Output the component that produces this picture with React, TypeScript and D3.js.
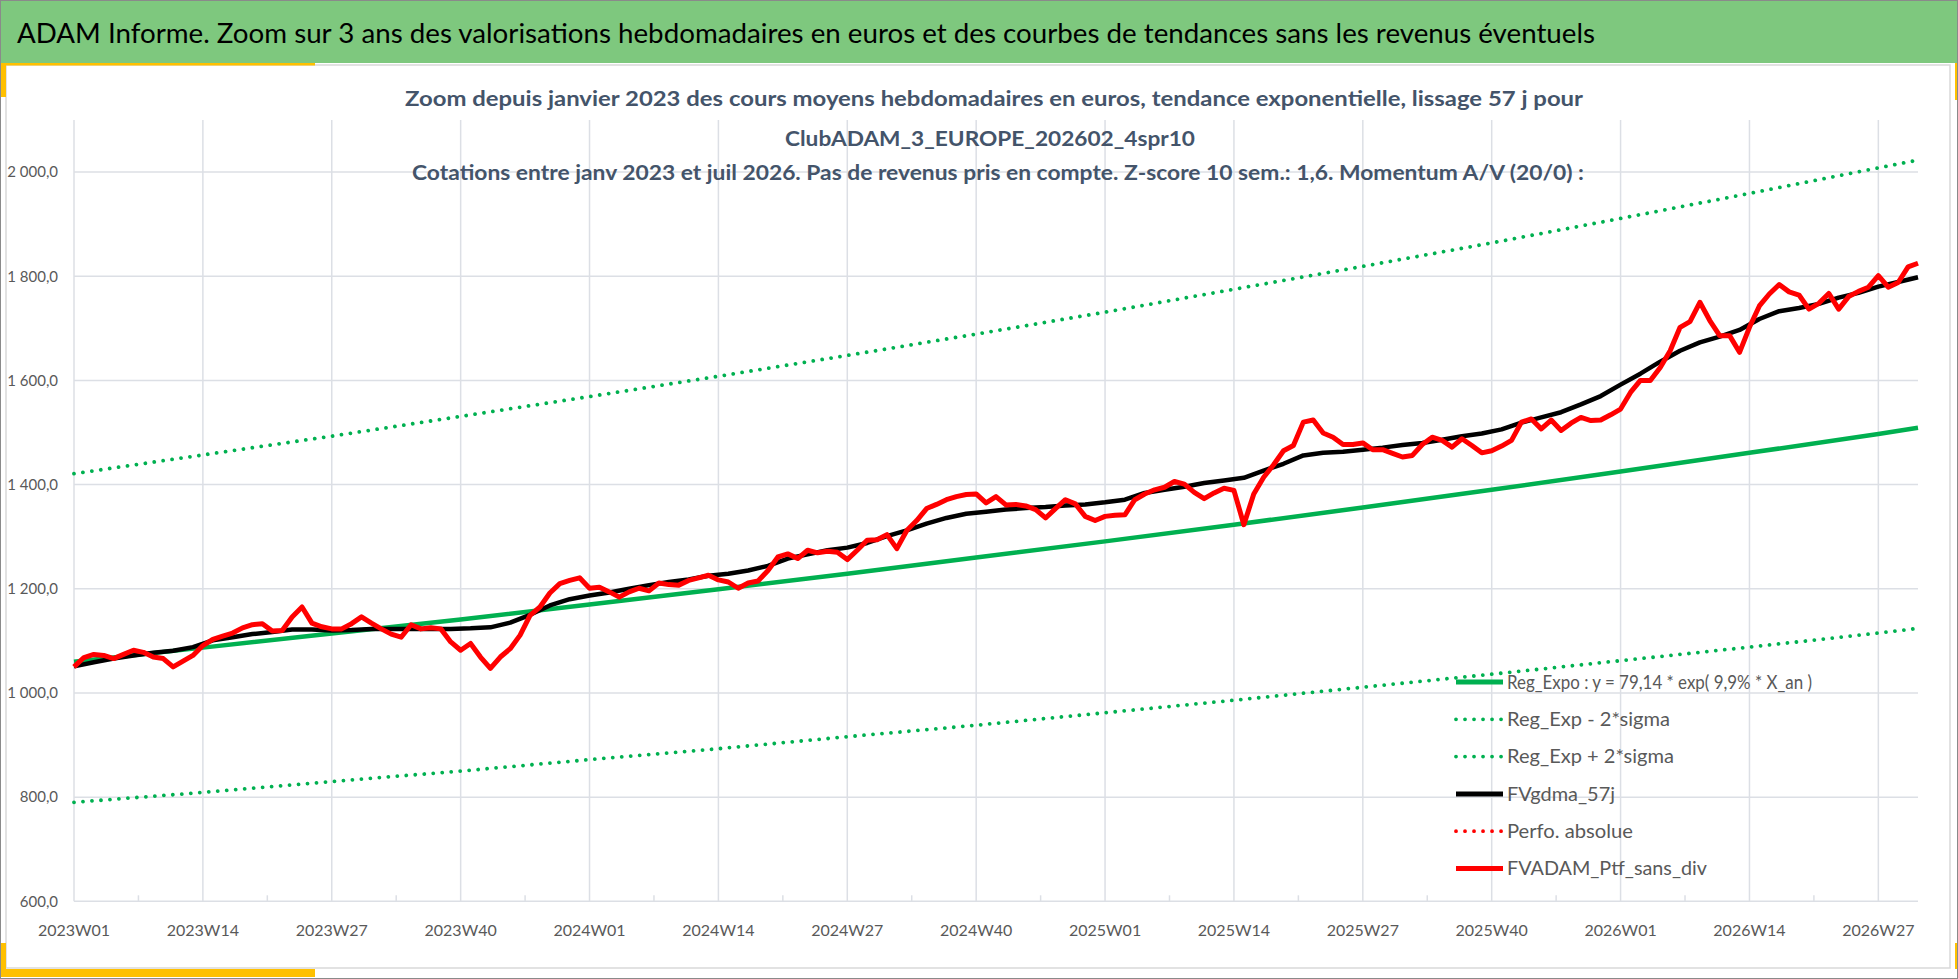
import * as d3 from 'd3'

// categories: weekly points 2023W01 .. 2026W31 (index 0..186)
const lastWeekIndex = 186
const tickLabels = [
  '2023W01', '2023W14', '2023W27', '2023W40',
  '2024W01', '2024W14', '2024W27', '2024W40',
  '2025W01', '2025W14', '2025W27', '2025W40',
  '2026W01', '2026W14', '2026W27',
]
const tickStep = 13
const yTicks = [600, 800, 1000, 1200, 1400, 1600, 1800, 2000]

// FVADAM_Ptf_sans_div, one value per week
const portfolio = [
  1050, 1068, 1074, 1072, 1066, 1074, 1082, 1078, 1069, 1066,
  1050, 1061, 1072, 1091, 1103, 1109, 1115, 1125, 1131, 1133,
  1119, 1120, 1146, 1165, 1134, 1127, 1123, 1123, 1133, 1146,
  1134, 1123, 1113, 1107, 1131, 1123, 1125, 1123, 1098, 1082,
  1095, 1069, 1047, 1069, 1085, 1111, 1149, 1165, 1192, 1210,
  1216, 1221, 1201, 1203, 1194, 1184, 1194, 1201, 1196, 1211,
  1208, 1207, 1216, 1221, 1226, 1217, 1213, 1201, 1211, 1215,
  1235, 1261, 1267, 1258, 1274, 1269, 1272, 1270, 1256, 1274,
  1293, 1294, 1304, 1277, 1312, 1331, 1354, 1362, 1371, 1377,
  1381, 1382, 1365, 1377, 1361, 1362, 1359, 1352, 1336, 1354,
  1371, 1363, 1339, 1331, 1339, 1341, 1342, 1371, 1382, 1390,
  1395, 1406, 1401, 1385, 1373, 1384, 1393, 1389, 1323, 1382,
  1414, 1438, 1465, 1475, 1520, 1524, 1499, 1491, 1477, 1477,
  1480, 1467, 1467, 1460, 1453, 1456, 1477, 1491, 1485, 1472,
  1488, 1475, 1461, 1465, 1474, 1485, 1520, 1526, 1507, 1524,
  1504, 1518, 1529, 1523, 1524, 1534, 1545, 1577, 1600, 1600,
  1625, 1657, 1702, 1713, 1750, 1715, 1686, 1686, 1654, 1702,
  1743, 1766, 1784, 1770, 1764, 1737, 1748, 1767, 1737, 1761,
  1771, 1779, 1801, 1779, 1788, 1818, 1825,
]

// FVgdma_57j, read every 2 weeks
const movingAvgStep = 2
const movingAvg = [
  1051, 1059, 1066, 1072, 1077, 1081, 1088, 1101, 1107, 1113,
  1117, 1122, 1122, 1120, 1121, 1123, 1123, 1123, 1123, 1123,
  1124, 1126, 1135, 1150, 1168, 1180, 1187, 1193, 1200, 1207,
  1213, 1218, 1225, 1229, 1235, 1244, 1258, 1266, 1274, 1279,
  1288, 1301, 1312, 1325, 1336, 1344, 1348, 1352, 1355, 1357,
  1360, 1362, 1366, 1371, 1384, 1390, 1396, 1403, 1408, 1413,
  1427, 1440, 1456, 1461, 1463, 1467, 1471, 1476, 1480, 1486,
  1493, 1498, 1506, 1519, 1529, 1539, 1554, 1570, 1592, 1613,
  1636, 1657, 1673, 1684, 1697, 1718, 1733, 1739, 1747, 1759,
  1768, 1780, 1789, 1798,
]

// trend lines read at the tick weeks and at the last week
const trendWeeks = [0, 13, 26, 39, 52, 65, 78, 91, 104, 117, 130, 143, 156, 169, 182, 186]
const regExpo = [1060, 1087, 1114, 1141, 1170, 1199, 1229, 1260, 1291, 1323, 1356, 1390, 1425, 1461, 1497, 1509]
const regLow = [790, 809, 830, 850, 872, 893, 916, 938, 962, 986, 1011, 1036, 1062, 1088, 1115, 1124]
const regHigh = [1421, 1457, 1493, 1531, 1569, 1608, 1648, 1689, 1731, 1775, 1819, 1864, 1911, 1959, 2008, 2023]

const legendItems = [
  { label: 'Reg_Expo : y = 79,14 * exp( 9,9% * X_an )', color: '#00B050', dotted: false, len: 305 },
  { label: 'Reg_Exp - 2*sigma', color: '#00B050', dotted: true, len: 163 },
  { label: 'Reg_Exp + 2*sigma', color: '#00B050', dotted: true, len: 167 },
  { label: 'FVgdma_57j', color: '#000000', dotted: false, len: 108 },
  { label: 'Perfo. absolue', color: '#FF0000', dotted: true, len: 126 },
  { label: 'FVADAM_Ptf_sans_div', color: '#FF0000', dotted: false, len: 200 },
]

const W = 1958
const H = 979
const font = 'Lato, Calibri, "Open Sans", sans-serif'
const gridColor = '#dcdfe5'
const axisText = '#595959'
const titleText = '#44546A'
const yellow = '#FFC000'

const fr = d3.formatLocale({ decimal: ',', thousands: ' ', grouping: [3], currency: ['', ' €'] })
const fmt = fr.format(',.1f')

export default function App() {
  const x = d3.scaleLinear().domain([0, lastWeekIndex]).range([74, 1918])
  const y = d3.scaleLinear().domain([600, 2100]).range([901.3, 120])

  const line = d3.line<[number, number]>().x(d => x(d[0])).y(d => y(d[1]))
  const redPts = portfolio.map((v, i) => [i, v] as [number, number])
  const blackPts = movingAvg.map((v, i) => [i * movingAvgStep, v] as [number, number])
  const trend = (vals: number[]) => vals.map((v, i) => [trendWeeks[i], v] as [number, number])

  const minorTicks = d3.range(tickStep / 2, lastWeekIndex, tickStep)
  const [x0, x1] = x.range()
  const [yb, yt] = y.range()

  const dotted = { strokeDasharray: '0.01 9', strokeLinecap: 'round' as const, strokeWidth: 3.8 }

  return (
    <div style={{ position: 'absolute', left: 0, top: 0 }}>
      <svg width={W} height={H} style={{ display: 'block', fontFamily: font }}>
        <rect x={0} y={0} width={W} height={H} fill="#ffffff" />
        {/* chart area frame */}
        <rect x={6} y={65} width={1944} height={903} fill="none" stroke="#d9d9d9" strokeWidth={1.5} />
        {/* title banner */}
        <rect x={0} y={0} width={W} height={63} fill="#7EC87E" />
        <text x={17} y={43} fontSize={27} fill="#000" textLength={1578} lengthAdjust="spacingAndGlyphs">
          ADAM Informe. Zoom sur 3 ans des valorisations hebdomadaires en euros et des courbes de tendances sans les revenus éventuels
        </text>
        {/* yellow corner marks */}
        <rect x={0} y={63} width={315} height={2.5} fill={yellow} />
        <rect x={0} y={63} width={6} height={34} fill={yellow} />
        <rect x={W - 3} y={63} width={3} height={37} fill={yellow} />
        <rect x={0} y={943} width={6} height={33} fill={yellow} />
        <rect x={0} y={969} width={315} height={8} fill={yellow} />
        <rect x={W - 3} y={943} width={3} height={26} fill={yellow} />
        <rect x={0.5} y={0.5} width={W - 1} height={H - 1} fill="none" stroke="#8a8a8a" strokeWidth={1} />

        {/* grid */}
        {yTicks.map(t => (
          <line key={'h' + t} x1={x0} x2={x1} y1={y(t)} y2={y(t)} stroke={gridColor} strokeWidth={1.5} />
        ))}
        {tickLabels.map((_, i) => (
          <line key={'v' + i} x1={x(i * tickStep)} x2={x(i * tickStep)} y1={yt} y2={yb} stroke={gridColor} strokeWidth={1.5} />
        ))}
        {minorTicks.map(t => (
          <line key={'m' + t} x1={x(t)} x2={x(t)} y1={yb - 6} y2={yb} stroke={gridColor} strokeWidth={1.5} />
        ))}

        {/* subtitles */}
        <g fill={titleText} fontWeight={700} fontSize={20} textAnchor="middle">
          <text x={994} y={106} textLength={1178} lengthAdjust="spacingAndGlyphs">
            Zoom depuis janvier 2023 des cours moyens hebdomadaires  en euros, tendance exponentielle, lissage 57 j pour
          </text>
          <text x={990} y={146} textLength={410} lengthAdjust="spacingAndGlyphs">
            ClubADAM_3_EUROPE_202602_4spr10
          </text>
          <text x={998} y={180} textLength={1172} lengthAdjust="spacingAndGlyphs">
            Cotations entre janv 2023 et juil 2026. Pas de revenus pris en compte. Z-score 10 sem.: 1,6. Momentum  A/V (20/0) :
          </text>
        </g>

        {/* axis labels */}
        {yTicks.map(t => (
          <text key={'yl' + t} x={58} y={y(t)} dy="0.35em" textAnchor="end" fontSize={15} fill={axisText}>
            {fmt(t)}
          </text>
        ))}
        {tickLabels.map((lab, i) => (
          <text key={'xl' + i} x={x(i * tickStep)} y={936} textAnchor="middle" fontSize={16} fill={axisText}>
            {lab}
          </text>
        ))}

        {/* series */}
        <g fill="none" strokeLinejoin="round">
          <path d={line(trend(regExpo)) ?? ''} stroke="#00B050" strokeWidth={4.5} />
          <path d={line(trend(regLow)) ?? ''} stroke="#00B050" {...dotted} />
          <path d={line(trend(regHigh)) ?? ''} stroke="#00B050" {...dotted} />
          <path d={line(blackPts) ?? ''} stroke="#000000" strokeWidth={4.5} />
          <path d={line(redPts) ?? ''} stroke="#FF0000" strokeWidth={5} />
        </g>

        {/* legend */}
        {legendItems.map((it, i) => {
          const cy = 682 + i * 37.3
          return (
            <g key={'lg' + i}>
              <line
                x1={1456}
                x2={1503}
                y1={cy}
                y2={cy}
                stroke={it.color}
                {...(it.dotted ? dotted : { strokeWidth: 5 })}
              />
              <text x={1507} y={cy} dy="0.36em" fontSize={19} fill={axisText} textLength={it.len} lengthAdjust="spacingAndGlyphs">
                {it.label}
              </text>
            </g>
          )
        })}
      </svg>
    </div>
  )
}
